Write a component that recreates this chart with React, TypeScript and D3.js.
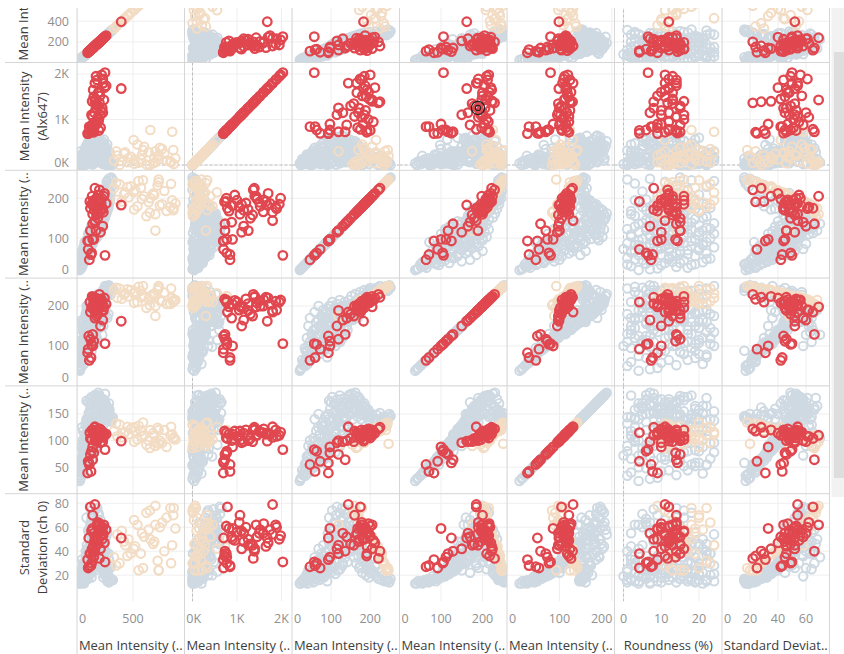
import * as d3 from 'd3';

// each cell: [meanA, meanAlx647, meanC, meanD, meanE, roundness, stdDevCol, stdDevCh0]
type Rec = number[];

const greyCells: Rec[] = [
  [25, 40, 20, 38, 24, 4, 17, 13], [35, 80, 24, 45, 30, 9, 20, 15], [20, 20, 28, 52, 35, 14, 18, 14],
  [48, 120, 30, 60, 40, 2, 24, 16], [40, 60, 33, 95, 55, 18, 27, 18], [30, 150, 36, 70, 48, 6, 22, 17],
  [55, 30, 38, 120, 70, 11, 30, 21], [62, 200, 40, 55, 38, 21, 19, 13], [45, 90, 42, 150, 90, 7, 33, 24],
  [28, 10, 44, 80, 52, 16, 26, 19], [70, 170, 46, 170, 100, 3, 36, 22], [58, 50, 47, 65, 44, 12, 21, 16],
  [38, 110, 49, 105, 66, 23, 29, 20], [66, 0, 50, 130, 80, 1, 34, 23], [50, 140, 35, 88, 58, 19, 16, 15],
  [60, 220, 52, 90, 62, 8, 30, 18], [75, 300, 55, 140, 105, 13, 40, 26], [48, 60, 57, 75, 50, 4, 25, 15],
  [85, 380, 58, 185, 140, 10, 48, 35], [90, 130, 60, 110, 80, 17, 35, 22], [55, 260, 62, 160, 118, 22, 44, 30],
  [100, 40, 64, 95, 66, 2, 28, 17], [70, 180, 66, 125, 92, 6, 38, 25], [110, 330, 68, 200, 150, 15, 52, 42],
  [65, 90, 70, 80, 58, 20, 24, 16], [95, 420, 72, 150, 112, 9, 46, 33], [80, 20, 73, 100, 72, 0, 58, 19],
  [120, 250, 75, 175, 128, 12, 50, 38], [58, 150, 77, 135, 96, 24, 41, 28], [105, 360, 78, 115, 85, 5, 37, 24],
  [88, 70, 80, 190, 135, 18, 54, 45], [130, 200, 81, 88, 64, 11, 27, 18], [72, 280, 83, 145, 106, 3, 43, 30],
  [115, 110, 84, 165, 120, 21, 49, 36], [92, 440, 85, 98, 70, 7, 31, 20], [140, 30, 86, 128, 90, 14, 60, 26],
  [78, 320, 87, 180, 132, 1, 53, 40], [125, 160, 88, 108, 78, 16, 34, 22], [98, 240, 89, 155, 114, 10, 45, 32],
  [68, 0, 90, 72, 54, 22, 23, 15], [110, 500, 92, 170, 150, 12, 50, 55], [140, 600, 94, 140, 120, 8, 47, 48],
  [85, 280, 95, 200, 175, 14, 52, 68], [160, 120, 96, 105, 82, 19, 36, 24], [120, 420, 98, 185, 160, 5, 55, 60],
  [95, 50, 100, 120, 95, 23, 42, 30], [175, 560, 101, 160, 138, 10, 49, 52], [130, 350, 103, 210, 182, 16, 56, 74],
  [150, 220, 104, 130, 108, 2, 44, 36], [105, 640, 106, 175, 152, 11, 53, 58], [185, 80, 107, 115, 88, 20, 38, 27],
  [125, 470, 108, 195, 170, 7, 57, 64], [165, 300, 110, 150, 128, 13, 62, 45], [100, 180, 111, 100, 78, 24, 33, 21],
  [195, 520, 112, 180, 158, 9, 57, 70], [140, 10, 113, 140, 115, 17, 65, 38], [115, 610, 115, 205, 178, 12, 58, 77],
  [170, 260, 116, 125, 100, 4, 40, 32], [205, 400, 118, 165, 145, 15, 58, 55], [135, 130, 119, 190, 165, 21, 68, 50],
  [155, 580, 120, 155, 135, 6, 46, 62], [190, 330, 122, 215, 185, 18, 54, 72], [120, 40, 123, 110, 90, 1, 64, 25],
  [210, 450, 125, 170, 150, 11, 60, 66], [145, 200, 126, 135, 110, 22, 63, 40], [180, 650, 128, 200, 172, 14, 60, 76],
  [160, 90, 129, 120, 98, 3, 38, 28], [215, 370, 130, 185, 162, 9, 66, 58], [130, 540, 132, 160, 142, 16, 56, 68],
  [200, 150, 133, 145, 125, 20, 42, 44], [170, 470, 135, 210, 180, 8, 61, 75], [225, 60, 136, 128, 105, 13, 70, 35],
  [150, 300, 137, 175, 155, 24, 59, 54], [190, 620, 138, 195, 170, 5, 56, 71], [235, 230, 140, 150, 130, 17, 64, 48],
  [180, 500, 142, 200, 178, 10, 55, 60], [220, 350, 144, 160, 150, 14, 62, 50], [160, 150, 146, 215, 186, 6, 50, 64],
  [240, 560, 148, 180, 165, 19, 45, 56], [200, 60, 150, 170, 172, 12, 48, 40], [250, 420, 152, 225, 188, 8, 53, 58],
  [175, 280, 154, 190, 180, 22, 67, 46], [230, 480, 156, 165, 140, 3, 58, 62], [210, 120, 158, 205, 176, 16, 44, 35],
  [260, 380, 160, 175, 160, 11, 61, 52], [190, 520, 162, 230, 190, 7, 49, 54], [245, 30, 164, 185, 158, 20, 66, 30],
  [220, 300, 166, 200, 168, 13, 56, 48], [270, 450, 168, 170, 145, 2, 64, 55], [200, 200, 170, 220, 182, 17, 52, 42],
  [255, 90, 172, 190, 150, 9, 35, 26], [235, 400, 174, 235, 178, 15, 57, 50], [280, 250, 176, 180, 140, 23, 63, 38],
  [215, 340, 178, 210, 165, 5, 47, 45], [265, 0, 180, 225, 155, 12, 30, 22], [240, 380, 183, 195, 148, 18, 60, 40],
  [285, 170, 185, 240, 170, 8, 42, 33], [225, 310, 187, 205, 152, 21, 58, 36], [275, 60, 189, 230, 162, 4, 28, 20],
  [250, 220, 191, 215, 145, 14, 55, 30], [290, 280, 193, 238, 158, 10, 50, 28], [260, 120, 195, 225, 140, 19, 38, 24],
  [235, 20, 197, 240, 150, 6, 25, 18], [295, 240, 199, 232, 138, 16, 52, 26], [270, 150, 200, 245, 145, 11, 45, 22],
  [280, 80, 205, 235, 150, 9, 40, 24], [240, 180, 209, 242, 142, 20, 33, 21], [300, 40, 213, 228, 136, 13, 48, 27],
  [260, 120, 217, 246, 148, 5, 28, 19], [290, 0, 221, 238, 140, 17, 22, 17], [250, 200, 225, 250, 152, 8, 36, 23],
  [310, 60, 229, 244, 138, 22, 19, 16], [275, 140, 233, 236, 145, 14, 30, 20], [295, 20, 237, 248, 142, 3, 17, 15],
  [265, 100, 241, 240, 140, 11, 25, 18], [320, 10, 245, 238, 143, 18, 16, 16], [285, 50, 249, 252, 150, 7, 20, 14],
  [305, 0, 252, 246, 146, 15, 16, 17], [270, 90, 243, 250, 138, 24, 23, 15], [315, 30, 247, 244, 144, 1, 18, 16],
  [30, 60, 32, 58, 42, 10, 21, 14], [42, 230, 38, 85, 60, 15, 28, 17], [55, 100, 45, 110, 75, 5, 31, 19],
  [35, 300, 52, 125, 88, 12, 37, 23], [60, 20, 55, 70, 52, 19, 23, 14], [50, 180, 60, 140, 100, 8, 42, 27],
  [72, 350, 63, 100, 74, 14, 33, 20], [45, 80, 67, 165, 125, 3, 47, 33], [85, 260, 70, 130, 96, 17, 39, 25],
  [65, 150, 74, 90, 68, 10, 29, 18], [95, 480, 78, 160, 120, 6, 45, 31], [70, 40, 82, 120, 88, 21, 36, 22],
  [105, 320, 85, 185, 145, 12, 51, 39], [80, 200, 88, 135, 102, 9, 41, 27], [115, 560, 91, 115, 92, 15, 34, 23],
  [90, 110, 94, 170, 140, 4, 48, 42], [125, 400, 97, 150, 125, 19, 44, 35], [100, 250, 100, 200, 172, 11, 54, 57],
  [135, 60, 103, 125, 100, 7, 37, 26], [110, 520, 106, 165, 142, 16, 50, 49], [145, 300, 109, 140, 118, 2, 43, 33],
  [120, 180, 112, 190, 168, 13, 55, 63], [155, 600, 115, 160, 140, 20, 49, 46], [130, 90, 118, 110, 90, 8, 36, 24],
  [165, 430, 121, 180, 160, 14, 53, 59], [140, 230, 124, 145, 125, 23, 46, 38], [175, 550, 127, 200, 178, 6, 57, 67],
  [150, 120, 130, 130, 112, 17, 41, 30], [185, 380, 133, 170, 152, 10, 52, 53], [160, 280, 136, 190, 170, 4, 58, 62],
  [195, 480, 139, 160, 142, 18, 48, 47], [170, 70, 142, 140, 122, 12, 40, 31], [205, 330, 145, 185, 168, 7, 56, 55],
  [180, 440, 148, 205, 184, 15, 54, 61], [215, 160, 151, 165, 150, 21, 45, 42], [190, 260, 154, 195, 176, 9, 51, 50],
  [225, 520, 157, 180, 160, 13, 59, 57], [200, 100, 160, 210, 185, 2, 50, 44], [235, 290, 163, 175, 155, 16, 62, 49],
  [210, 400, 166, 195, 168, 11, 55, 46], [245, 190, 170, 215, 175, 6, 46, 36], [220, 40, 174, 185, 160, 19, 38, 28],
  [255, 350, 178, 220, 170, 14, 53, 40], [230, 130, 182, 200, 155, 8, 44, 31], [265, 250, 186, 228, 165, 22, 57, 37],
  [240, 70, 190, 210, 150, 12, 34, 25], [275, 200, 195, 235, 158, 3, 48, 30], [25, 0, 22, 42, 28, 7, 19, 13],
  [40, 130, 26, 65, 44, 17, 24, 15], [32, 70, 34, 50, 34, 1, 17, 14], [52, 190, 41, 100, 68, 13, 32, 18],
  [44, 40, 48, 78, 55, 22, 22, 16], [58, 240, 54, 115, 84, 6, 35, 21], [75, 120, 61, 85, 62, 15, 27, 17],
  [68, 280, 69, 150, 110, 2, 44, 29], [88, 50, 76, 108, 80, 20, 32, 20], [78, 400, 79, 170, 128, 9, 49, 36],
  [98, 170, 83, 95, 72, 4, 30, 19], [112, 300, 93, 130, 110, 18, 40, 30], [128, 30, 99, 105, 85, 12, 33, 22],
];

const tanCells: Rec[] = [
  [330, 100, 225, 240, 118, 12, 30, 35], [729, 200, 247, 250, 94, 16, 20, 24], [879, 150, 187, 215, 102, 19, 62, 59],
  [834, 80, 179, 205, 110, 22, 66, 76], [700, 300, 119, 175, 90, 14, 48, 62], [655, 770, 200, 225, 120, 18, 55, 50],
  [850, 730, 195, 220, 112, 24, 58, 45], [860, 330, 170, 210, 104, 20, 64, 70], [506, 550, 215, 232, 125, 11, 42, 42],
  [550, 50, 243, 248, 128, 15, 22, 24], [729, 120, 240, 245, 120, 13, 25, 24], [700, 60, 160, 200, 98, 9, 69, 78],
  [864, 20, 175, 215, 106, 18, 68, 76], [420, 250, 210, 228, 115, 10, 45, 48], [480, 180, 230, 240, 122, 14, 35, 38],
  [600, 400, 205, 225, 110, 17, 50, 52], [380, 0, 235, 244, 130, 12, 28, 30], [640, 280, 190, 218, 100, 21, 60, 58],
  [520, 120, 220, 236, 118, 16, 40, 44], [760, 350, 185, 212, 96, 23, 63, 64], [450, 60, 228, 242, 126, 13, 33, 36],
  [580, 220, 198, 222, 108, 19, 52, 55], [800, 100, 168, 205, 88, 20, 65, 68], [350, 300, 238, 246, 132, 11, 24, 28],
  [680, 40, 212, 230, 114, 15, 46, 46], [540, 450, 180, 210, 102, 18, 57, 62], [720, 200, 232, 240, 124, 22, 30, 32],
  [620, 10, 155, 195, 92, 12, 67, 72], [460, 150, 202, 224, 112, 14, 49, 50], [780, 250, 218, 234, 120, 17, 38, 40],
  [400, 90, 192, 218, 106, 10, 55, 57], [590, 330, 245, 250, 134, 20, 18, 26], [690, 170, 208, 226, 110, 16, 47, 48],
  [510, 30, 172, 208, 98, 13, 61, 66], [840, 60, 236, 244, 126, 23, 27, 30], [360, 210, 196, 220, 108, 9, 53, 54],
  [570, 120, 226, 238, 118, 19, 36, 38], [740, 380, 182, 214, 100, 15, 59, 60], [430, 280, 214, 232, 116, 24, 44, 45],
  [650, 0, 164, 202, 86, 11, 66, 74],
];

const redCells: Rec[] = [
  [150, 720, 191, 217, 118, 11, 24, 36], [200, 1366, 221, 229, 122, 11.7, 22, 34], [260, 1742, 187, 205, 112, 14, 54, 58],
  [230, 1890, 174, 190, 108, 12, 61, 60], [190, 1590, 166, 200, 115, 13, 48, 55], [170, 1254, 119, 189, 100, 15, 46, 45],
  [210, 1105, 115, 150, 96, 10, 52, 42], [395, 1680, 183, 162, 99, 12, 52, 51], [180, 1870, 178, 212, 120, 14, 44, 62],
  [250, 2030, 57, 106, 83, 6.5, 50, 31], [220, 1980, 200, 215, 116, 11, 56, 53], [160, 1390, 225, 222, 125, 8, 28, 40],
  [240, 1430, 205, 198, 110, 13, 69, 62], [120, 785, 175, 185, 104, 12, 65, 77], [140, 1067, 160, 200, 118, 14, 54, 70],
  [175, 900, 182, 205, 112, 9, 47, 50], [195, 1000, 195, 210, 108, 16, 51, 56], [155, 1150, 170, 195, 114, 12, 45, 48],
  [215, 1200, 188, 218, 120, 10, 53, 60], [185, 1300, 150, 180, 104, 15, 49, 46], [165, 1450, 198, 208, 110, 13, 42, 52],
  [205, 1520, 180, 200, 116, 9, 57, 58], [145, 1650, 192, 222, 112, 11, 46, 44], [235, 1800, 165, 188, 106, 14, 50, 54],
  [190, 950, 208, 214, 118, 12, 55, 49], [130, 1100, 185, 196, 102, 16, 48, 57], [225, 1250, 172, 206, 110, 8, 44, 50],
  [175, 1350, 158, 175, 98, 13, 52, 45], [200, 1600, 196, 216, 122, 10, 47, 63], [160, 880, 140, 170, 100, 15, 58, 52],
  [245, 1700, 212, 220, 114, 12, 40, 47], [185, 1050, 178, 190, 108, 14, 62, 64], [150, 1500, 190, 212, 118, 11, 45, 55],
  [210, 820, 168, 198, 112, 9, 51, 59], [135, 1400, 205, 224, 120, 16, 35, 42], [170, 1950, 185, 210, 110, 13, 49, 50],
  [195, 760, 200, 215, 105, 12, 53, 61], [230, 1150, 130, 165, 98, 7, 60, 55], [110, 843, 46, 64, 55, 7.3, 42, 27],
  [130, 770, 63, 104, 80, 6, 49, 30], [95, 692, 93, 83, 39, 9, 31, 33], [150, 769, 97, 112, 77, 13.8, 45, 35],
  [140, 730, 136, 129, 64, 14, 66, 40], [120, 730, 119, 117, 74, 15, 46, 38], [100, 697, 72, 92, 61, 4.2, 25, 26],
  [125, 842, 59, 71, 42, 7.7, 43, 28], [105, 700, 93, 125, 58, 14.3, 44, 51], [140, 900, 97, 100, 88, 10, 33, 59],
  [115, 760, 192, 210, 115, 4.2, 30, 38], [160, 1800, 144, 185, 126, 11, 54, 79],
];

const colTitles = ['Mean Intensity (..', 'Mean Intensity (..', 'Mean Intensity (..', 'Mean Intensity (..',
  'Mean Intensity (..', 'Roundness (%)', 'Standard Deviat..'];
const rowTitles = [['Mean Intensity (..'], ['Mean Intensity', '(Alx647)'], ['Mean Intensity (..'],
  ['Mean Intensity (..'], ['Mean Intensity (..'], ['Standard', 'Deviation (ch 0)']];
const colFields = [0, 1, 2, 3, 4, 5, 6];
const rowFields = [0, 1, 2, 3, 4, 7];
const colDomains = [[0, 960], [-180, 2236], [0, 275], [0, 259], [0, 205], [-2.4, 26.1], [0, 76.8]];
const rowDomains = [[0, 1045], [-116, 2253], [0, 270], [0, 270], [0, 203], [-2, 88]];
const colTicks = [[0, 500], [0, 1000, 2000], [0, 100, 200], [0, 100, 200], [0, 100, 200], [0, 10, 20], [0, 20, 40, 60]];
const rowTicks = [[200, 400], [0, 1000, 2000], [0, 100, 200], [0, 100, 200], [50, 100, 150], [20, 40, 60, 80]];
const zeroCols = [1, 5];
const zeroRows = [1];
const selected = { row: 1, col: 3, index: 5 };

const W = 844;
const H = 654;
const left = 77;
const colW = 107.5;
const top0 = -45.3;
const rowH = 107.8;
const clipTop = 8;
const font = '"Open Sans", sans-serif';
const lineColor = '#d6d6d6';
const gridColor = '#efefef';

const tickText = (field: number, v: number) => (field === 1 ? `${v / 1000}K` : `${v}`);

export default function App() {
  const xs = colDomains.map((d, j) =>
    d3.scaleLinear().domain(d).range([left + j * colW, left + (j + 1) * colW]));
  const ys = rowDomains.map((d, i) =>
    d3.scaleLinear().domain(d).range([top0 + (i + 1) * rowH, top0 + i * rowH]));

  const groups = [
    { cells: greyCells, color: '#cfd9e2', sw: 2 },
    { cells: tanCells, color: '#f3dcc4', sw: 2 },
    { cells: redCells, color: '#e0474f', sw: 2.3 },
  ];

  const panes = [];
  for (let i = 0; i < rowFields.length; i++) {
    for (let j = 0; j < colFields.length; j++) {
      const x = xs[j];
      const y = ys[i];
      const [x0, x1] = x.range();
      const [yb, yt] = y.range();
      panes.push(
        <g key={`p${i}-${j}`} clipPath={`url(#clip${i}-${j})`}>
          {colTicks[j].map((t) => (
            <line key={`gx${t}`} x1={x(t)} x2={x(t)} y1={yt} y2={yb} stroke={gridColor} />
          ))}
          {rowTicks[i].map((t) => (
            <line key={`gy${t}`} x1={x0} x2={x1} y1={y(t)} y2={y(t)} stroke={gridColor} />
          ))}
          {zeroCols.includes(j) && (
            <line x1={x(0)} x2={x(0)} y1={yt} y2={yb} stroke="#bdbdbd" strokeDasharray="3 2" />
          )}
          {zeroRows.includes(i) && (
            <line x1={x0} x2={x1} y1={y(0)} y2={y(0)} stroke="#bdbdbd" strokeDasharray="3 2" />
          )}
          {groups.map((g, gi) => (
            <g key={gi} fill="none" stroke={g.color} strokeWidth={g.sw}>
              {g.cells.map((c, k) => (
                <circle key={k} cx={x(c[colFields[j]])} cy={y(c[rowFields[i]])} r={4.3} />
              ))}
            </g>
          ))}
          {selected.row === i && selected.col === j && (() => {
            const c = redCells[selected.index];
            const cx = x(c[colFields[j]]);
            const cy = y(c[rowFields[i]]);
            return (
              <g fill="none" stroke="#222">
                <circle cx={cx} cy={cy} r={6.6} strokeWidth={1.3} />
                <circle cx={cx} cy={cy} r={2.6} strokeWidth={1.1} />
              </g>
            );
          })()}
        </g>
      );
    }
  }

  const clips = [];
  for (let i = 0; i < rowFields.length; i++) {
    for (let j = 0; j < colFields.length; j++) {
      const [x0, x1] = xs[j].range();
      const [yb, yt] = ys[i].range();
      const top = Math.max(yt, clipTop);
      clips.push(
        <clipPath key={`c${i}-${j}`} id={`clip${i}-${j}`}>
          <rect x={x0} y={top} width={x1 - x0} height={yb - top} />
        </clipPath>
      );
    }
  }

  const bottom = top0 + rowFields.length * rowH;

  return (
    <svg width={W} height={H} style={{ position: 'absolute', left: 0, top: 0, background: '#fff' }}
      fontFamily={font}>
      <defs>
        {clips}
        <clipPath id="clipHead">
          <rect x={0} y={clipTop} width={left} height={H} />
        </clipPath>
      </defs>

      {panes}

      {/* pane borders */}
      {d3.range(colFields.length + 1).map((j) => (
        <line key={`vb${j}`} x1={left + j * colW} x2={left + j * colW} y1={clipTop} y2={H}
          stroke={lineColor} />
      ))}
      {d3.range(1, rowFields.length).map((i) => (
        <line key={`hb${i}`} x1={5} x2={left + colFields.length * colW} y1={top0 + i * rowH}
          y2={top0 + i * rowH} stroke={lineColor} />
      ))}

      {/* y axes; the first row is scrolled, so its title is cut at the top */}
      <g clipPath="url(#clipHead)">
        {rowTicks.map((ticks, i) => {
          const [yb, yt] = ys[i].range();
          return ticks.map((t) => (
            <text key={`yt${i}-${t}`} x={69} y={Math.min(Math.max(ys[i](t), yt + 7), yb - 8)}
              dy="0.35em" textAnchor="end" fontSize={12.5} fill="#8f8f8f">
              {tickText(rowFields[i], t)}
            </text>
          ));
        })}
        {rowTitles.map((lines, i) => {
          const cy = top0 + (i + 0.5) * rowH;
          const xsPos = lines.length === 1 ? [23] : [24, 42.5];
          return lines.map((s, k) => (
            <text key={`rt${i}-${k}`} transform={`translate(${xsPos[k]},${cy}) rotate(-90)`}
              dy="0.35em" textAnchor="middle" fontSize={13} fill="#3d3d3d">
              {s}
            </text>
          ));
        })}
      </g>

      {/* x axes */}
      {colTicks.map((ticks, j) => {
        const [x0, x1] = xs[j].range();
        return ticks.map((t) => {
          const s = tickText(colFields[j], t);
          const half = s.length * 3.6;
          const cx = Math.min(Math.max(xs[j](t), x0 + half + 2), x1 - half - 2);
          return (
            <text key={`xt${j}-${t}`} x={cx} y={bottom + 17} dy="0.35em" textAnchor="middle"
              fontSize={12.5} fill="#8f8f8f">
              {s}
            </text>
          );
        });
      })}
      {colTitles.map((s, j) => (
        <text key={`ct${j}`} x={left + (j + 0.5) * colW} y={645} dy="0.35em" textAnchor="middle"
          fontSize={13} fill="#3d3d3d">
          {s}
        </text>
      ))}

      {/* scroll bar */}
      <rect x={831.5} y={clipTop} width={12.5} height={489} fill="#f2f2f2" />
      <rect x={834} y={52} width={10} height={426} fill="#dedede" />
    </svg>
  );
}
